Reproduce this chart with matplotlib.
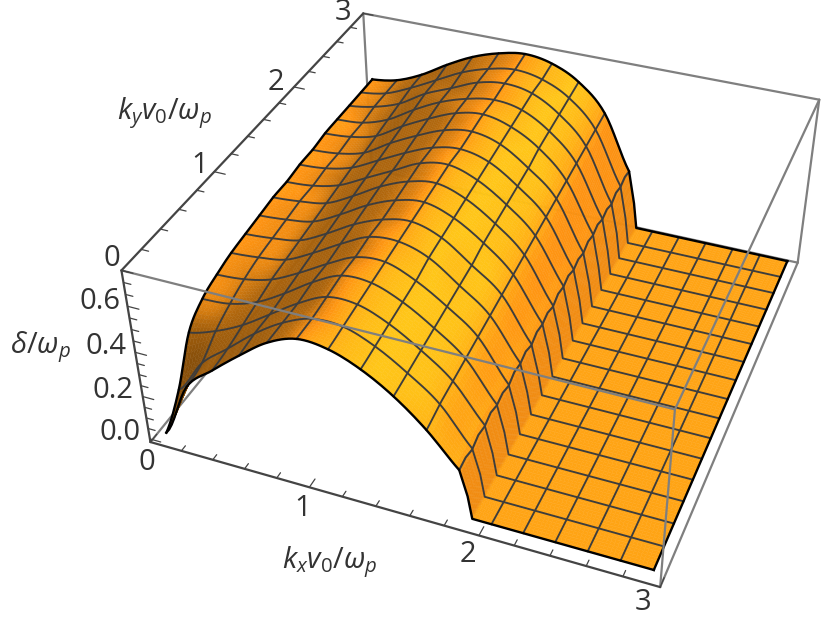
import numpy as np
import matplotlib
matplotlib.use("Agg")
import matplotlib.pyplot as plt

plt.rcParams['font.family'] = ['Open Sans', 'DejaVu Sans']
plt.rcParams['mathtext.fontset'] = 'custom'
plt.rcParams['mathtext.rm'] = 'Open Sans'
plt.rcParams['mathtext.it'] = 'Open Sans:italic'

# ---- data ----
kx_mesh = [0.06, 0.24, 0.42, 0.60, 0.78, 0.96, 1.14, 1.32, 1.50, 1.68, 1.86, 2.04, 2.22, 2.40, 2.58, 2.76, 2.94]
kx_edge = [1.905, 1.93]
ky_mesh = [0.08, 0.26, 0.44, 0.62, 0.80, 0.98, 1.16, 1.34, 1.52, 1.70, 1.88, 2.06, 2.24, 2.42, 2.60, 2.78, 2.96]
# delta at kx = 0.06 ... 1.86, 1.905 for each ky; zero from kx = 1.93 on
delta_rows = [
    [.00, .25, .36, .46, .55, .60, .59, .54, .46, .35, .21, .10],
    [.11, .27, .37, .47, .55, .60, .60, .55, .47, .37, .21, .10],
    [.29, .33, .39, .47, .55, .61, .61, .56, .48, .38, .22, .10],
    [.36, .37, .41, .48, .56, .62, .62, .57, .49, .39, .22, .10],
    [.39, .40, .43, .49, .56, .62, .63, .58, .50, .40, .22, .10],
    [.41, .42, .44, .50, .57, .63, .64, .60, .51, .41, .23, .10],
    [.42, .43, .45, .51, .58, .63, .65, .61, .52, .42, .23, .10],
    [.43, .44, .46, .52, .59, .64, .66, .62, .54, .43, .24, .11],
    [.44, .45, .47, .53, .60, .65, .67, .63, .55, .44, .24, .11],
    [.44, .45, .48, .54, .60, .66, .68, .64, .56, .45, .25, .11],
    [.45, .46, .49, .55, .61, .66, .68, .65, .57, .46, .25, .11],
    [.45, .46, .49, .56, .62, .67, .69, .66, .58, .47, .25, .11],
    [.46, .47, .50, .57, .63, .68, .70, .67, .60, .48, .26, .11],
    [.46, .47, .51, .58, .64, .68, .70, .68, .61, .49, .26, .11],
    [.46, .48, .52, .59, .64, .69, .71, .69, .62, .50, .26, .12],
    [.46, .48, .53, .59, .65, .69, .71, .69, .63, .51, .27, .12],
    [.46, .48, .53, .60, .66, .70, .72, .70, .64, .52, .27, .12],
]
# small steps seen on the mesh line at kx = 1.86
jag_186 = [0, .008, -.006, .007, -.007, .008, -.005, .007, -.007, .007, -.006, .008, -.007, .007, -.006, .007, -.007,
           .008, -.006, .007, -.007, .007, -.005, .008, -.007, .007, -.006, .007, -.007, .008, -.006, .007, 0]
# shade of the surface against its slope
slope_stops = [-2.5, -1.2, -.7, -.4, -.15, 0, .15, .3, .45, 1.0]
green_stops = [.55, .58, .70, .78, .70, .625, .52, .41, .37, .31]
x_tick_labels = ['0', '1', '2', '3']
y_tick_labels = ['0', '1', '2', '3']
z_tick_labels = ['0.0', '0.2', '0.4', '0.6']

# ---- camera: fitted on the box corners seen in the picture ----
W, H = 830, 621
Z0, Z1 = -0.015, 0.75
corners = [((0, 0, Z0), (150, 442)), ((3, 0, Z0), (660, 587)), ((3, 3, Z0), (798, 262)), ((0, 3, Z0), (372, 170)),
           ((0, 0, Z1), (122, 270)), ((3, 0, Z1), (675, 410)), ((3, 3, Z1), (819, 100)), ((0, 3, Z1), (363, 13))]
A = []
for (X, Y, Z), (u, v) in corners:
    u, v = u / W, (H - v) / H
    A.append([X, Y, Z, 1, 0, 0, 0, 0, -u * X, -u * Y, -u * Z, -u])
    A.append([0, 0, 0, 0, X, Y, Z, 1, -v * X, -v * Y, -v * Z, -v])
P = np.linalg.svd(np.array(A))[2][-1].reshape(3, 4)
P = np.diag([W, H, 1.0]) @ P
P /= P[2] @ np.array([1.5, 1.5, 0.3, 1.0])
M = np.vstack([P[0], P[1], [0, 0, 0, -1.0], P[2]])

# ---- surface table ----
kx = np.array(sorted(kx_mesh + kx_edge))
ky = np.array(ky_mesh)
Z = np.zeros((len(ky), len(kx)))
Z[:, :12] = np.array(delta_rows)
mesh_cols = [i for i, v in enumerate(kx) if v in kx_mesh]

S = 8
def through_nodes(a, axis, ncurve):
    """Piece painted between table nodes: a curve through them for the first ncurve gaps, straight after."""
    a = np.moveaxis(np.asarray(a, float), axis, 0)
    n = len(a)
    out = []
    for i in range(n - 1):
        p0, p1, p2, p3 = a[max(i - 1, 0)], a[i], a[i + 1], a[min(i + 2, n - 1)]
        for k in range(S):
            t = k / S
            if i < ncurve:
                out.append(0.5 * (2 * p1 + (p2 - p0) * t + (2 * p0 - 5 * p1 + 4 * p2 - p3) * t ** 2
                                  + (3 * p1 - p0 - 3 * p2 + p3) * t ** 3))
            else:
                out.append(p1 + (p2 - p1) * t)
    out.append(a[-1])
    return np.moveaxis(np.array(out), 0, axis)

KX, KY = np.meshgrid(kx, ky)
PX = through_nodes(through_nodes(KX, 0, 0), 1, 0)
PY = through_nodes(through_nodes(KY, 0, 0), 1, 0)
PZ = through_nodes(through_nodes(Z, 0, len(ky)), 1, 10)
PZ = np.maximum(PZ, 0)

# colours from the surface slope
zy = np.gradient(PZ, axis=0) / np.gradient(PY, axis=0)
zx = np.gradient(PZ, axis=1) / np.gradient(PX, axis=1)
G = np.interp(zx + 0.5 * zy, slope_stops, green_stops)
G[np.abs(PZ) < 1e-9] = 0.645
PC = np.stack([np.clip(1.72 * G, 0, 1), G, 0.12 * G], -1)
fc = 0.25 * (PC[:-1, :-1] + PC[1:, :-1] + PC[:-1, 1:] + PC[1:, 1:])

# ---- figure ----
fig = plt.figure(figsize=(W / 100, H / 100), dpi=100)
ax = fig.add_axes([0, 0, 1, 1], projection='3d', computed_zorder=False)
ax.set_proj_type('ortho')
ax.apply_aspect = lambda position=None: None
ax.get_proj = lambda: M
ax.viewLim.intervalx = (0, W)
ax.viewLim.intervaly = (0, H)
ax.set_axis_off()

GREY = '#7f7f7f'
DARK = '#444444'
def seg(a, b, color=GREY, lw=1.6, z=1):
    ax.plot([a[0], b[0]], [a[1], b[1]], [a[2], b[2]], color=color, lw=lw, zorder=z, solid_capstyle='round')

# box edges behind the surface
seg((0, 3, Z1), (3, 3, Z1)); seg((0, 3, Z1), (0, 3, Z0)); seg((0, 3, Z0), (3, 3, Z0))
seg((3, 3, Z1), (3, 3, Z0)); seg((0, 0, Z0), (0, 3, Z0)); seg((3, 0, Z0), (3, 3, Z0))

ax.plot_surface(PX, PY, PZ, facecolors=fc, rstride=1, cstride=1, shade=False, linewidth=0.3, antialiased=True, zorder=2)

# mesh
MESH = '#3d3d3d'
for j in range(1, len(ky) - 1):
    ax.plot(PX[j * S], PY[j * S], PZ[j * S], color=MESH, lw=1.35, zorder=3)
col_186 = kx.tolist().index(1.86)
for i in mesh_cols[1:-1]:
    c = i * S
    if i == col_186:
        st = S // 2
        ax.plot(PX[::st, c], PY[::st, c], PZ[::st, c] + np.array(jag_186), color=MESH, lw=1.5, zorder=3)
    else:
        ax.plot(PX[:, c], PY[:, c], PZ[:, c], color=MESH, lw=1.35, zorder=3)
# boundary
for a, b, c in [(PX[0], PY[0], PZ[0]), (PX[-1], PY[-1], PZ[-1]),
                (PX[:, 0], PY[:, 0], PZ[:, 0]), (PX[:, -1], PY[:, -1], PZ[:, -1])]:
    ax.plot(a, b, c, color='black', lw=1.7, zorder=3)

# box edges in front
seg((0, 0, Z1), (3, 0, Z1), z=4); seg((3, 0, Z1), (3, 3, Z1), z=4); seg((3, 0, Z1), (3, 0, Z0), z=4)

# axes with ticks
seg((0, 0, Z0), (3, 0, Z0), DARK, 1.6, 4)
seg((0, 0, Z0), (0, 0, Z1), DARK, 1.6, 4)
seg((0, 0, Z1), (0, 3, Z1), DARK, 1.6, 4)
for t in np.arange(0, 3.01, 0.2):
    L = 0.07 if abs(t - round(t)) < 1e-6 else 0.045
    seg((t, 0, Z0), (t, L, Z0), DARK, 0.9, 4)
    seg((0, t, Z1), (L, t, Z1), DARK, 0.9, 4)
for t in np.arange(0, 0.751, 0.05):
    L = 0.07 if abs(t / 0.2 - round(t / 0.2)) < 1e-6 else 0.045
    seg((0, 0, t), (L, 0, t), DARK, 0.9, 4)

def label(x, y, s, size=21):
    fig.text(x / W, 1 - y / H, s, ha='center', va='center', fontsize=size, color='#333333')

for s, (x, y) in zip(x_tick_labels, [(147, 463), (303, 508), (468, 555), (643, 603)]):
    label(x, y, s)
for s, (x, y) in zip(y_tick_labels, [(112, 258), (200, 165), (276, 83), (343, 13)]):
    label(x, y, s)
for s, (x, y) in zip(z_tick_labels, [(120, 432), (113, 390), (106, 347), (100, 302)]):
    label(x, y, s)
label(165, 113, r'$k_y v_0/\omega_p$')
label(40, 347, r'$\delta/\omega_p$')
label(330, 562, r'$k_x v_0/\omega_p$')

fig.savefig('out.png', dpi=100)
